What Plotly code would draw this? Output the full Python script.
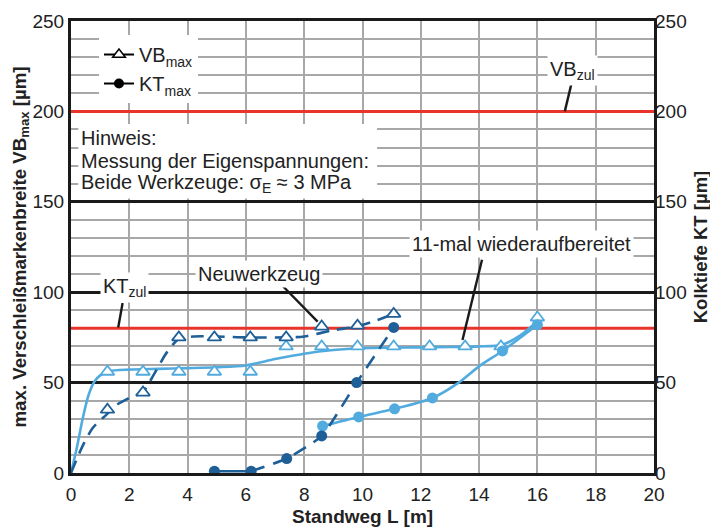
import plotly.graph_objects as go

# ---------------- data ----------------
# VB_max, Neuwerkzeug (dark, open triangles, dashed fit)
vb_neu_x = [1.25, 2.47, 3.7, 4.92, 6.15, 7.38, 8.6, 9.83, 11.07]
vb_neu_y = [35, 44.5, 75, 75, 75, 75, 81, 81.5, 88]
vb_neu_fit_x = [0, 0.4, 0.75, 1.2, 1.6, 2.0, 2.47, 2.86, 3.3, 3.7, 4.2, 5.0, 6.0, 7.4, 8.0, 9.0, 9.8, 10.5, 11.07]
vb_neu_fit_y = [0, 15, 25, 32, 38, 41.5, 45, 55, 67, 74, 75.5, 75.5, 75, 75, 75.5, 79, 81, 84.5, 88]

# VB_max, 11-mal wiederaufbereitet (light, open triangles, solid fit)
vb_wa_x = [1.25, 2.47, 3.7, 4.92, 6.15, 7.38, 8.6, 9.83, 11.07, 12.3, 13.52, 14.75, 16.0]
vb_wa_y = [56, 56, 56, 56, 56, 70, 70, 70, 70, 70, 70, 70, 86]
vb_wa_fit_x = [0, 0.2, 0.4, 0.6, 0.8, 1.0, 1.3, 2, 3, 4, 5, 6, 7, 8, 9, 10, 11, 12, 13, 14, 14.8, 15.4, 16]
vb_wa_fit_y = [0, 14, 30, 43, 50.5, 54, 56.3, 57.2, 57.6, 58, 58.5, 59.5, 63, 66, 68, 69, 69.3, 69.5, 69.7, 70, 71, 76, 84]

# KT_max, Neuwerkzeug (dark, filled circles)
kt_neu_x = [4.92, 6.18, 7.4, 8.6, 9.8, 11.07]
kt_neu_y = [1, 1, 8, 20.5, 50, 80.5]

# KT_max, 11-mal wiederaufbereitet (light, filled circles)
kt_wa_x = [8.63, 9.87, 11.1, 12.4, 14.8, 16.0]
kt_wa_y = [26, 31, 35.5, 41.5, 67.5, 82]
kt_wa_fit_x = [8.63, 9.87, 11.1, 12.4, 13.3, 14.0, 14.8, 16.0]
kt_wa_fit_y = [26, 31, 35.5, 41.5, 50, 59, 67.5, 82]

# limits
vb_zul = 200
kt_zul = 80

x_range = [0, 20]
x_ticks = [0, 2, 4, 6, 8, 10, 12, 14, 16, 18, 20]
y_ticks = [0, 50, 100, 150, 200, 250]

# ---------------- style ----------------
DARK = "#1f5f98"
LIGHT = "#52abde"
RED = "#e8352b"
GRID = "#a8a8a8"
FONT = "Liberation Sans, Arial, sans-serif"
TXT = "#222222"

fig = go.Figure()

# limit lines
for lim in (vb_zul, kt_zul):
    fig.add_trace(go.Scatter(x=x_range, y=[lim, lim], mode="lines",
                             line=dict(color=RED, width=3),
                             showlegend=False, hoverinfo="skip"))

# fitted curves
fig.add_trace(go.Scatter(x=vb_wa_fit_x, y=vb_wa_fit_y, mode="lines",
                         line=dict(color=LIGHT, width=2.6, shape="spline", smoothing=0.8),
                         showlegend=False, hoverinfo="skip"))
fig.add_trace(go.Scatter(x=vb_neu_fit_x, y=vb_neu_fit_y, mode="lines",
                         line=dict(color=DARK, width=2.6, shape="spline", smoothing=0.8, dash="13px,8px"),
                         showlegend=False, hoverinfo="skip"))
fig.add_trace(go.Scatter(x=kt_wa_fit_x, y=kt_wa_fit_y, mode="lines", yaxis="y2",
                         line=dict(color=LIGHT, width=2.6, shape="spline", smoothing=0.8),
                         showlegend=False, hoverinfo="skip"))
fig.add_trace(go.Scatter(x=kt_neu_x[:2], y=kt_neu_y[:2], mode="lines", yaxis="y2",
                         line=dict(color=DARK, width=2.6),
                         showlegend=False, hoverinfo="skip"))
fig.add_trace(go.Scatter(x=kt_neu_x[1:], y=kt_neu_y[1:], mode="lines", yaxis="y2",
                         line=dict(color=DARK, width=2.6, shape="spline", smoothing=0.5, dash="14px,9px"),
                         showlegend=False, hoverinfo="skip"))

# markers
fig.add_trace(go.Scatter(x=vb_wa_x, y=vb_wa_y, mode="markers",
                         marker=dict(symbol="triangle-up", size=12, color="white",
                                     line=dict(color=LIGHT, width=1.8)),
                         showlegend=False))
fig.add_trace(go.Scatter(x=vb_neu_x, y=vb_neu_y, mode="markers",
                         marker=dict(symbol="triangle-up", size=12, color="white",
                                     line=dict(color=DARK, width=1.8)),
                         showlegend=False))
fig.add_trace(go.Scatter(x=kt_wa_x, y=kt_wa_y, mode="markers", yaxis="y2",
                         marker=dict(symbol="circle", size=11, color=LIGHT),
                         showlegend=False))
fig.add_trace(go.Scatter(x=kt_neu_x, y=kt_neu_y, mode="markers", yaxis="y2",
                         marker=dict(symbol="circle", size=11, color=DARK),
                         showlegend=False))

# legend entries (black symbols)
fig.add_trace(go.Scatter(x=[None], y=[None], mode="lines+markers", name="VB<sub>max</sub>",
                         line=dict(color="black", width=2),
                         marker=dict(symbol="triangle-up", size=11, color="white",
                                     line=dict(color="black", width=1.5))))
fig.add_trace(go.Scatter(x=[None], y=[None], mode="lines+markers", name="KT<sub>max</sub>",
                         line=dict(color="black", width=2),
                         marker=dict(symbol="circle", size=10, color="black")))

shapes = []
# Hinweis white box
shapes.append(dict(type="rect", xref="x", yref="y", x0=0.25, x1=10.5, y0=151.8, y1=193,
                   fillcolor="white", line=dict(width=0), layer="above"))
# leader lines
leaders = [
    ((17.17, 215.5), (16.94, 200)),
    ((1.77, 94), (1.62, 80.5)),
    ((7.23, 104), (8.46, 83.7)),
    ((14.1, 118), (13.43, 73.6)),
]
for (xa, ya), (xb, yb) in leaders:
    shapes.append(dict(type="line", xref="x", yref="y", x0=xa, y0=ya, x1=xb, y1=yb,
                       line=dict(color="#1a1a1a", width=2.4), layer="above"))

ann_font = dict(family=FONT, size=20, color=TXT)
annotations = [
    dict(x=17.2, y=222.5, text="VB<sub>zul</sub>"),
    dict(x=1.84, y=102.5, text="KT<sub>zul</sub>"),
    dict(x=6.46, y=110.2, text="Neuwerkzeug"),
    dict(x=15.46, y=126.8, text="11-mal wiederaufbereitet"),
]
for a in annotations:
    a.update(xref="x", yref="y", showarrow=False, font=ann_font, bgcolor="white", borderpad=2)
hinweis = [
    (185.4, "Hinweis:"),
    (172.4, "Messung der Eigenspannungen:"),
    (160.4, "Beide Werkzeuge: σ<sub>E</sub> ≈ 3 MPa"),
]
for yy, t in hinweis:
    annotations.append(dict(x=0.28, y=yy, xref="x", yref="y", text=t, showarrow=False,
                            xanchor="left", font=ann_font))
# x-axis title
annotations.append(dict(x=0.5, y=-0.097, xref="paper", yref="paper", showarrow=False,
                        text="<b>Standweg L [m]</b>", xanchor="center", yanchor="middle",
                        font=dict(family=FONT, size=19, color=TXT)))

tick_font = dict(family=FONT, size=19, color=TXT)

fig.update_layout(
    width=718, height=530,
    margin=dict(l=63, r=72, t=13, b=65, autoexpand=False),
    paper_bgcolor="white", plot_bgcolor="white",
    font=dict(family=FONT, color=TXT),
    shapes=shapes, annotations=annotations,
    showlegend=True,
    legend=dict(x=0.048, y=0.969, xanchor="left", yanchor="top", bgcolor="white",
                font=dict(family=FONT, size=20, color=TXT), itemwidth=30,
                tracegroupgap=0, borderwidth=0),
    xaxis=dict(range=x_range, tickvals=x_ticks, ticktext=[str(v) for v in x_ticks],
               showgrid=True, gridcolor=GRID, gridwidth=1.5, automargin=False,
               showline=True, linecolor="#1a1a1a", linewidth=3, mirror=True,
               ticks="outside", ticklen=2, tickcolor="rgba(0,0,0,0)",
               tickfont=tick_font, zeroline=False),
    yaxis=dict(range=[0, 250], tickvals=y_ticks, ticktext=[str(v) for v in y_ticks],
               showgrid=True, gridcolor="#1a1a1a", gridwidth=2.6, automargin=False,
               minor=dict(dtick=10, showgrid=True, gridcolor=GRID, gridwidth=1.5),
               showline=True, linecolor="#1a1a1a", linewidth=3, mirror=True,
               ticks="", tickfont=tick_font, zeroline=False,
               title=dict(text="<b>max. Verschleißmarkenbreite VB<sub>max</sub> [µm]</b>",
                          font=dict(family=FONT, size=18.7, color=TXT), standoff=1)),
    yaxis2=dict(range=[0, 250], tickvals=y_ticks, ticktext=[str(v) for v in y_ticks],
                overlaying="y", side="right", showgrid=False, zeroline=False,
                showline=False, automargin=False,
                ticks="", tickfont=tick_font,
                title=dict(text="<b>Kolktiefe KT [µm]</b>",
                           font=dict(family=FONT, size=18.5, color=TXT), standoff=8)),
)

fig.write_html("out.html")
